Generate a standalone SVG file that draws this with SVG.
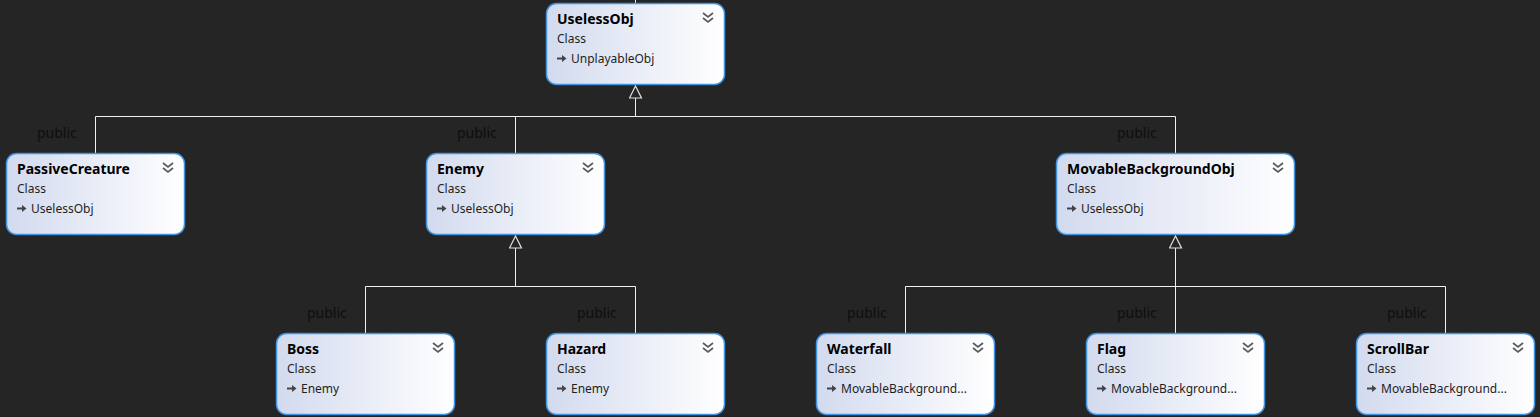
<svg xmlns="http://www.w3.org/2000/svg" width="1540" height="417" viewBox="0 0 1540 417">
<defs>
<linearGradient id="g" x1="0" y1="0" x2="1" y2="0">
<stop offset="0" stop-color="#d2daee"/>
<stop offset="1" stop-color="#ffffff"/>
</linearGradient>
<marker id="inh" viewBox="0 0 14 14" refX="13" refY="7" markerWidth="14" markerHeight="14" markerUnits="userSpaceOnUse" orient="auto">
<path d="M1 1 L13 7 L1 13 Z" fill="#252526" stroke="#e0e0e0" stroke-width="1.2"/>
</marker>
<g id="chev"><path d="M0 0 L5 4 L10 0 M0 5 L5 9 L10 5" fill="none" stroke="#5a5a5a" stroke-width="1.7"/></g>
<g id="arr"><path d="M0 4.5 H5" stroke="#444" stroke-width="2"/><path d="M5 1 L9.5 4.5 L5 8 Z" fill="#444"/></g>
</defs>
<style>
.box{fill:url(#g);stroke:#3f93e3;stroke-width:1.5}
.t{font-family:"Segoe UI","Noto Sans","Liberation Sans",sans-serif;font-size:14px;font-weight:bold;fill:#000}
.s{font-family:"Segoe UI","Noto Sans","Liberation Sans",sans-serif;font-size:12px;fill:#1e1e1e}
.p{font-family:"Segoe UI","Noto Sans","Liberation Sans",sans-serif;font-size:14px;fill:#0e0e0e}
.c{fill:none;stroke:#f0f0f0;stroke-width:1}
</style>
<rect width="1540" height="417" fill="#252526"/>
<g id="connectors">
<path class="c" d="M635.5 0 V3"/>
<path class="c" d="M635.5 116.5 V86" marker-end="url(#inh)"/>
<path class="c" d="M95.5 153 V116.5 H1175.5 V153 M515.5 116.5 V153"/>
<path class="c" d="M515.5 286.5 V236" marker-end="url(#inh)"/>
<path class="c" d="M365.5 333 V286.5 H635.5 V333"/>
<path class="c" d="M1175.5 286.5 V236" marker-end="url(#inh)"/>
<path class="c" d="M905.5 333 V286.5 H1445.5 V333 M1175.5 286.5 V333"/>
<text class="p" x="37" y="138">public</text>
<text class="p" x="457" y="138">public</text>
<text class="p" x="1117" y="138">public</text>
<text class="p" x="307" y="318">public</text>
<text class="p" x="577" y="318">public</text>
<text class="p" x="847" y="318">public</text>
<text class="p" x="1117" y="318">public</text>
<text class="p" x="1387" y="318">public</text>
</g>
<g id="UselessObj" transform="translate(546,3)">
<rect class="box" x="0.5" y="0.5" width="178" height="81" rx="10"/>
<text class="t" x="11" y="21">UselessObj</text>
<use href="#chev" x="157" y="10"/>
<text class="s" x="11" y="40">Class</text>
<use href="#arr" x="11" y="51"/>
<text class="s" x="25" y="60">UnplayableObj</text>
</g>
<g id="PassiveCreature" transform="translate(6,153)">
<rect class="box" x="0.5" y="0.5" width="178" height="81" rx="10"/>
<text class="t" x="11" y="21">PassiveCreature</text>
<use href="#chev" x="157" y="10"/>
<text class="s" x="11" y="40">Class</text>
<use href="#arr" x="11" y="51"/>
<text class="s" x="25" y="60">UselessObj</text>
</g>
<g id="Enemy" transform="translate(426,153)">
<rect class="box" x="0.5" y="0.5" width="178" height="81" rx="10"/>
<text class="t" x="11" y="21">Enemy</text>
<use href="#chev" x="157" y="10"/>
<text class="s" x="11" y="40">Class</text>
<use href="#arr" x="11" y="51"/>
<text class="s" x="25" y="60">UselessObj</text>
</g>
<g id="MovableBackgroundObj" transform="translate(1056,153)">
<rect class="box" x="0.5" y="0.5" width="238" height="81" rx="10"/>
<text class="t" x="11" y="21">MovableBackgroundObj</text>
<use href="#chev" x="217" y="10"/>
<text class="s" x="11" y="40">Class</text>
<use href="#arr" x="11" y="51"/>
<text class="s" x="25" y="60">UselessObj</text>
</g>
<g id="Boss" transform="translate(276,333)">
<rect class="box" x="0.5" y="0.5" width="178" height="81" rx="10"/>
<text class="t" x="11" y="21">Boss</text>
<use href="#chev" x="157" y="10"/>
<text class="s" x="11" y="40">Class</text>
<use href="#arr" x="11" y="51"/>
<text class="s" x="25" y="60">Enemy</text>
</g>
<g id="Hazard" transform="translate(546,333)">
<rect class="box" x="0.5" y="0.5" width="178" height="81" rx="10"/>
<text class="t" x="11" y="21">Hazard</text>
<use href="#chev" x="157" y="10"/>
<text class="s" x="11" y="40">Class</text>
<use href="#arr" x="11" y="51"/>
<text class="s" x="25" y="60">Enemy</text>
</g>
<g id="Waterfall" transform="translate(816,333)">
<rect class="box" x="0.5" y="0.5" width="178" height="81" rx="10"/>
<text class="t" x="11" y="21">Waterfall</text>
<use href="#chev" x="157" y="10"/>
<text class="s" x="11" y="40">Class</text>
<use href="#arr" x="11" y="51"/>
<text class="s" x="25" y="60">MovableBackground...</text>
</g>
<g id="Flag" transform="translate(1086,333)">
<rect class="box" x="0.5" y="0.5" width="178" height="81" rx="10"/>
<text class="t" x="11" y="21">Flag</text>
<use href="#chev" x="157" y="10"/>
<text class="s" x="11" y="40">Class</text>
<use href="#arr" x="11" y="51"/>
<text class="s" x="25" y="60">MovableBackground...</text>
</g>
<g id="ScrollBar" transform="translate(1356,333)">
<rect class="box" x="0.5" y="0.5" width="178" height="81" rx="10"/>
<text class="t" x="11" y="21">ScrollBar</text>
<use href="#chev" x="157" y="10"/>
<text class="s" x="11" y="40">Class</text>
<use href="#arr" x="11" y="51"/>
<text class="s" x="25" y="60">MovableBackground...</text>
</g>
</svg>
